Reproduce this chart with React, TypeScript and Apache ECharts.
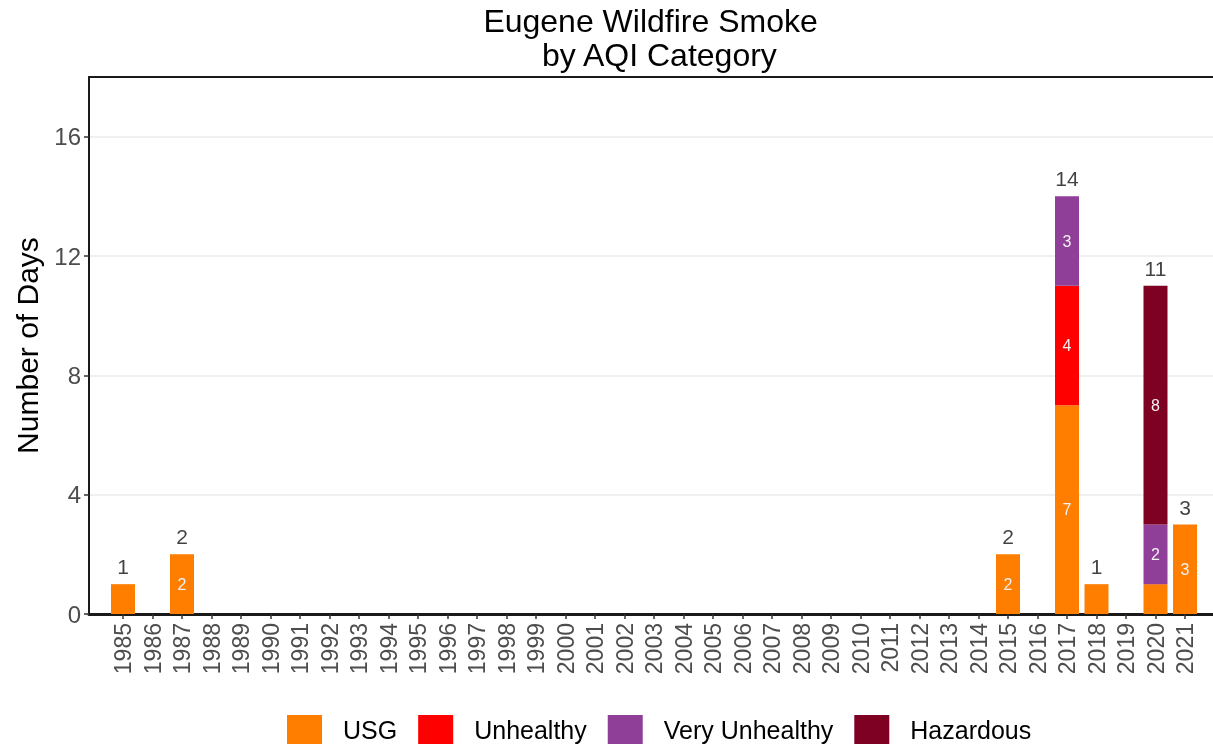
import React, { useEffect, useRef } from "react";
import * as echarts from "echarts";

const years = [
  "1985", "1986", "1987", "1988", "1989", "1990", "1991", "1992", "1993", "1994",
  "1995", "1996", "1997", "1998", "1999", "2000", "2001", "2002", "2003", "2004",
  "2005", "2006", "2007", "2008", "2009", "2010", "2011", "2012", "2013", "2014",
  "2015", "2016", "2017", "2018", "2019", "2020", "2021",
];
const usgYears = ["1985", "1987", "2015", "2017", "2018", "2020", "2021"];
const usgDays = [1, 2, 2, 7, 1, 1, 3];
const unhealthyYears = ["2017"];
const unhealthyDays = [4];
const veryUnhealthyYears = ["2017", "2020"];
const veryUnhealthyDays = [3, 2];
const hazardousYears = ["2020"];
const hazardousDays = [8];
const totalYears = ["1985", "1987", "2015", "2017", "2018", "2020", "2021"];
const totalDays = [1, 2, 2, 14, 1, 11, 3];
const yTicks = [0, 4, 8, 12, 16];
const categories = ["USG", "Unhealthy", "Very Unhealthy", "Hazardous"];
const colors = ["#FF7E00", "#FF0000", "#8F3F97", "#7E0023"];

const FONT = "'Liberation Sans', Arial, sans-serif";

const spread = (xs: string[], ys: number[]) =>
  years.map((y) => {
    const i = xs.indexOf(y);
    return i >= 0 ? ys[i] : null;
  });

export default function App() {
  const ref = useRef<HTMLDivElement>(null);
  useEffect(() => {
    if (!ref.current) return;
    const chart = echarts.init(ref.current, undefined, { renderer: "svg" });
    const seriesData = [
      spread(usgYears, usgDays),
      spread(unhealthyYears, unhealthyDays),
      spread(veryUnhealthyYears, veryUnhealthyDays),
      spread(hazardousYears, hazardousDays),
    ];
    const step = 29.5;
    const barLeft = 123 - step / 2;
    const barRight = 1213 - (barLeft + step * years.length);
    chart.setOption({
      animation: false,
      textStyle: { fontFamily: FONT },
      graphic: [
        {
          type: "text",
          x: 655,
          y: 4,
          style: {
            text: "Eugene Wildfire Smoke \n by AQI Category",
            textAlign: "center",
            fontFamily: FONT,
            fontSize: 32,
            lineHeight: 34,
            fill: "#000",
          },
        },
      ],
      grid: [
        { left: 89, right: 0, top: 77, bottom: 133, containLabel: false },
        { left: barLeft, right: barRight, top: 77, bottom: 133, containLabel: false },
      ],
      legend: {
        data: categories,
        left: 282,
        top: 710,
        itemWidth: 35,
        itemHeight: 29,
        itemGap: 21,
        icon: "rect",
        selectedMode: false,
        textStyle: { fontSize: 25, color: "#000", fontFamily: FONT, padding: [0, 0, 0, 16] },
      },
      xAxis: [
        {
          type: "value",
          gridIndex: 0,
          min: 0,
          max: 1,
          position: "bottom",
          axisLine: { show: true, onZero: false, lineStyle: { color: "#1A1A1A", width: 3 } },
          axisTick: { show: false },
          axisLabel: { show: false },
          splitLine: { show: false },
        },
        {
          type: "value",
          gridIndex: 0,
          min: 0,
          max: 1,
          position: "top",
          axisLine: { show: true, onZero: false, lineStyle: { color: "#1A1A1A", width: 2 } },
          axisTick: { show: false },
          axisLabel: { show: false },
          splitLine: { show: false },
        },
        {
          type: "category",
          gridIndex: 1,
          data: years,
          position: "bottom",
          axisLine: { show: false, onZero: false },
          axisTick: {
            show: true,
            alignWithLabel: true,
            interval: 0,
            length: 5,
            lineStyle: { color: "#333", width: 1.5 },
          },
          axisLabel: {
            interval: 0,
            rotate: 90,
            fontSize: 23,
            color: "#4D4D4D",
            margin: 9,
          },
          splitLine: { show: false },
        },
      ],
      yAxis: [
        {
          type: "value",
          gridIndex: 0,
          min: 0,
          max: 18,
          interval: 2,
          name: "Number of Days",
          nameLocation: "middle",
          nameGap: 47,
          nameRotate: 90,
          nameTextStyle: { fontSize: 30, color: "#000", fontFamily: FONT },
          axisLine: { show: true, onZero: false, lineStyle: { color: "#1A1A1A", width: 2 } },
          axisTick: { show: true, customValues: yTicks, length: 5, lineStyle: { color: "#333", width: 1.5 } },
          axisLabel: { customValues: yTicks, fontSize: 24, color: "#4D4D4D", margin: 8 },
          splitLine: { show: true, lineStyle: { color: "#EBEBEB", width: 1.5 } },
        },
        {
          type: "value",
          gridIndex: 1,
          min: 0,
          max: 18,
          show: false,
          splitLine: { show: false },
        },
      ],
      series: [
        ...categories.map((name, i) => ({
          name,
          type: "bar",
          stack: "days",
          xAxisIndex: 2,
          yAxisIndex: 1,
          barWidth: 24,
          data: seriesData[i],
          itemStyle: { color: colors[i] },
          label: {
            show: true,
            position: "inside",
            color: "#F2F2F2",
            fontSize: 16,
            fontFamily: FONT,
            formatter: (p: any) => (p.value >= 2 ? String(p.value) : ""),
          },
        })),
        {
          name: "Total",
          type: "scatter",
          xAxisIndex: 2,
          yAxisIndex: 1,
          symbolSize: 0,
          itemStyle: { color: "rgba(0,0,0,0)" },
          data: spread(totalYears, totalDays),
          label: {
            show: true,
            position: "top",
            distance: 7,
            color: "#111",
            fontSize: 21,
            fontFamily: FONT,
            formatter: (p: any) => String(p.value),
          },
        },
      ],
    });
    return () => chart.dispose();
  }, []);
  return (
    <div
      ref={ref}
      style={{ position: "fixed", left: 0, top: 0, width: 1213, height: 747 }}
    />
  );
}
